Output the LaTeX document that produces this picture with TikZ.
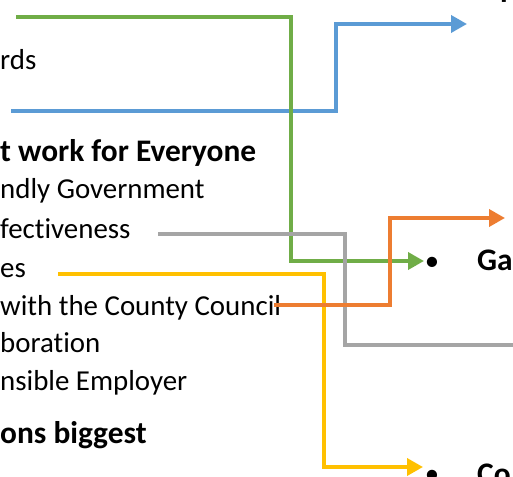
\documentclass[tikz,border=0pt]{standalone}
\usepackage{fontspec}
\setmainfont{Carlito}[Ligatures=NoCommon]
\usetikzlibrary{arrows.meta}

\definecolor{linkgreen}{HTML}{70AD47}
\definecolor{linkblue}{HTML}{5B9BD5}
\definecolor{linkgray}{HTML}{A5A5A5}
\definecolor{linkyellow}{HTML}{FFC000}
\definecolor{linkorange}{HTML}{ED7D31}

\begin{document}
\begin{tikzpicture}[x=1bp,y=-1bp,
  txt/.style={anchor=base west, inner sep=0pt, font=\fontsize{29}{35}\selectfont},
  head/.style={txt, font=\fontsize{31.5}{38}\selectfont\bfseries},
  bul/.style={anchor=base, inner sep=0pt, font=\fontsize{29}{35}\selectfont},
  link/.style={line width=3.6bp},
  linkarrow/.style={link, -{Triangle[length=16bp,width=17bp]}}]
\useasboundingbox (0,0) rectangle (513,477);
\clip (0,0) rectangle (513,477);

% left column: priorities and themes
\node[txt]  (awards)   at (0,70)  {rds};
\node[head] (everyone) at (0,162) {t work for Everyone};
\node[txt]  (friendly) at (0,199) {ndly Government};
\node[txt]  (effect)   at (0,238) {fectiveness};
\node[txt]  (services) at (0,277) {es};
\node[txt]  (county)   at (0,315) {with the County Council};
\node[txt]  (collab)   at (0,352) {boration};
\node[txt]  (employer) at (0,390) {nsible Employer};
\node[head] (biggest)  at (0,443) {ons biggest};

% right column: outcomes
\node[head] (topitem) at (500,-2.5) {p};
\node[bul]  (bulGa) at (432,270) {•};
\node[head] (ga)    at (477,270) {Ga};
\node[bul]  (bulCo) at (432,483) {•};
\node[head] (co)    at (477,484) {Co};

% connector ends
\coordinate (bS) at (11,111);   \coordinate (bE) at (467,24);
\coordinate (gS) at (16,17);    \coordinate (gE) at (424,261);
\coordinate (rS) at (158,234);  \coordinate (rE) at (530,345);
\coordinate (yS) at (58,274);   \coordinate (yE) at (423,467);
\coordinate (oS) at (274,305);  \coordinate (oE) at (505,218);

% connectors
\draw[linkarrow, linkblue]   (bS) -| (336,67) |- (bE);
\draw[linkarrow, linkgreen]  (gS) -| (291,140) |- (gE);
\draw[link, linkgray]        (rS) -| (345,290) |- (rE);
\draw[linkarrow, linkyellow] (yS) -| (324,370) |- (yE);
\draw[linkarrow, linkorange] (oS) -| (390,260) |- (oE);
\end{tikzpicture}
\end{document}
